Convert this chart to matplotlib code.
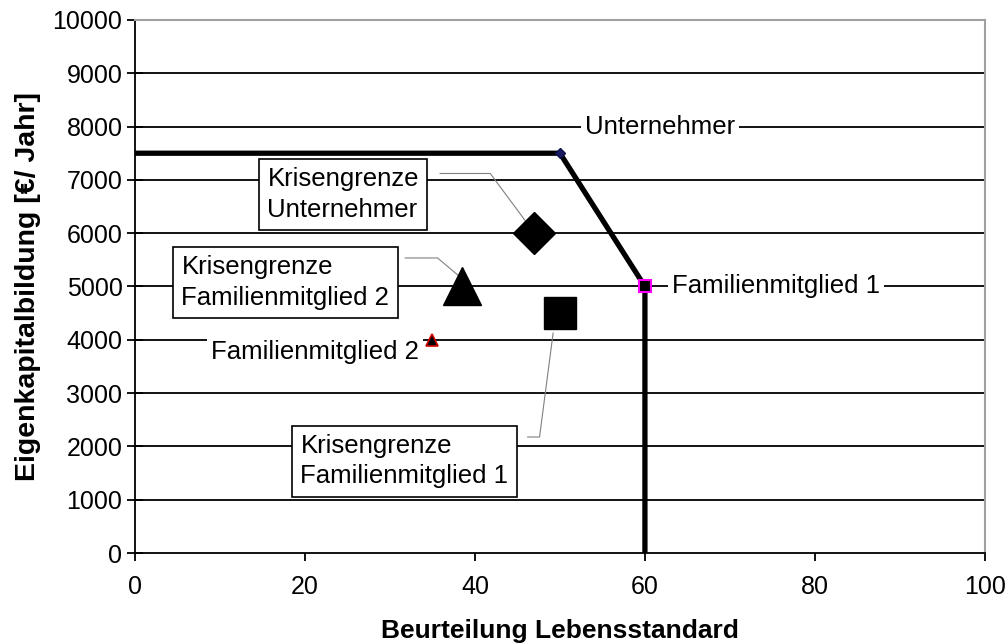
import matplotlib
matplotlib.use("Agg")
import matplotlib.pyplot as plt

plt.rcParams['font.family'] = ['Liberation Sans', 'DejaVu Sans']

# Data
path_x = [0, 50, 60, 60]
path_y = [7500, 7500, 5000, 0]

point_names = ["Unternehmer", "Familienmitglied 1", "Familienmitglied 2"]
point_x = [50, 60, 35]
point_y = [7500, 5000, 4000]

krisen_names = ["Krisengrenze\nUnternehmer", "Krisengrenze\nFamilienmitglied 2", "Krisengrenze\nFamilienmitglied 1"]
krisen_x = [47, 38.5, 50]
krisen_y = [6000, 5000, 4500]

x_ticks = [0, 20, 40, 60, 80, 100]
y_ticks = list(range(0, 10001, 1000))

fig = plt.figure(figsize=(10.05, 6.44), dpi=100)
ax = fig.add_axes([0.1343, 0.1413, 0.8457, 0.8277])

ax.set_xlim(0, 100)
ax.set_ylim(0, 10000)

# gridlines
for yv in y_ticks[1:-1]:
    ax.axhline(yv, color='black', lw=1.3, zorder=1)

# thick path
ax.plot(path_x, path_y, color='black', lw=3.8, zorder=3, solid_joinstyle='miter')

# small points
ax.plot(point_x[0], point_y[0], marker='D', ms=5, color='#1a1a60', mec='#101050', ls='none', zorder=5)
ax.plot(point_x[1], point_y[1], marker='s', ms=9, color='black', mec='#ff00ff', mew=1.5, ls='none', zorder=5)
ax.plot(point_x[2], point_y[2], marker='^', ms=8, color='black', mec='#d00000', mew=1.2, ls='none', zorder=5)

# crisis markers
ax.plot(krisen_x[0], krisen_y[0], marker='D', ms=21, color='black', ls='none', zorder=5)
ax.plot(krisen_x[1], krisen_y[1], marker='^', ms=27, color='black', ls='none', zorder=5)
ax.plot(krisen_x[2], krisen_y[2], marker='s', ms=23, color='black', ls='none', zorder=5)

fs = 18.5
# simple labels
ax.text(61.8, 8000, point_names[0], fontsize=fs, ha='center', va='center', zorder=4,
        bbox=dict(facecolor='white', edgecolor='none', pad=3))
ax.text(75.4, 5000, point_names[1], fontsize=fs, ha='center', va='center', zorder=4,
        bbox=dict(facecolor='white', edgecolor='none', pad=3))
ax.text(21.2, 3770, point_names[2], fontsize=fs, ha='center', va='center', zorder=4,
        bbox=dict(facecolor='white', edgecolor='none', pad=3))

# leader lines
ax.plot([35.9, 41.8, 46.5], [7120, 7120, 6110], color='#808080', lw=0.8, zorder=2)
ax.plot([31.8, 35.6, 38.0], [5535, 5535, 5213], color='#808080', lw=0.8, zorder=2)
ax.plot([46.2, 47.6, 49.2], [2176, 2176, 4128], color='#808080', lw=0.8, zorder=2)

# boxed labels
box = dict(facecolor='white', edgecolor='black', lw=1.2, pad=6)
ax.text(24.5, 6720, krisen_names[0], fontsize=fs, ha='center', va='center', linespacing=1.35,
        multialignment='left', zorder=4, bbox=box)
ax.text(17.7, 5080, krisen_names[1], fontsize=fs, ha='center', va='center', linespacing=1.35,
        multialignment='left', zorder=4, bbox=box)
ax.text(31.7, 1725, krisen_names[2], fontsize=fs, ha='center', va='center', linespacing=1.35,
        multialignment='left', zorder=4, bbox=box)

# axes styling
ax.spines['top'].set_color('#a0a0a0')
ax.spines['right'].set_color('#a0a0a0')
ax.spines['top'].set_linewidth(1.5)
ax.spines['right'].set_linewidth(1.5)
ax.spines['left'].set_linewidth(1.3)
ax.spines['bottom'].set_linewidth(1.3)

ax.set_xticks(x_ticks)
ax.set_yticks(y_ticks)
ax.tick_params(axis='y', direction='inout', length=12, width=1.3, labelsize=18, pad=3)
ax.tick_params(axis='x', direction='out', length=6, width=1.3, labelsize=18, pad=10)

ax.set_xlabel("Beurteilung Lebensstandard", fontsize=19, fontweight='bold', labelpad=14)
ax.set_ylabel("Eigenkapitalbildung [€/ Jahr]", fontsize=20.5, fontweight='bold', labelpad=8)

fig.savefig("out.png", dpi=100)
